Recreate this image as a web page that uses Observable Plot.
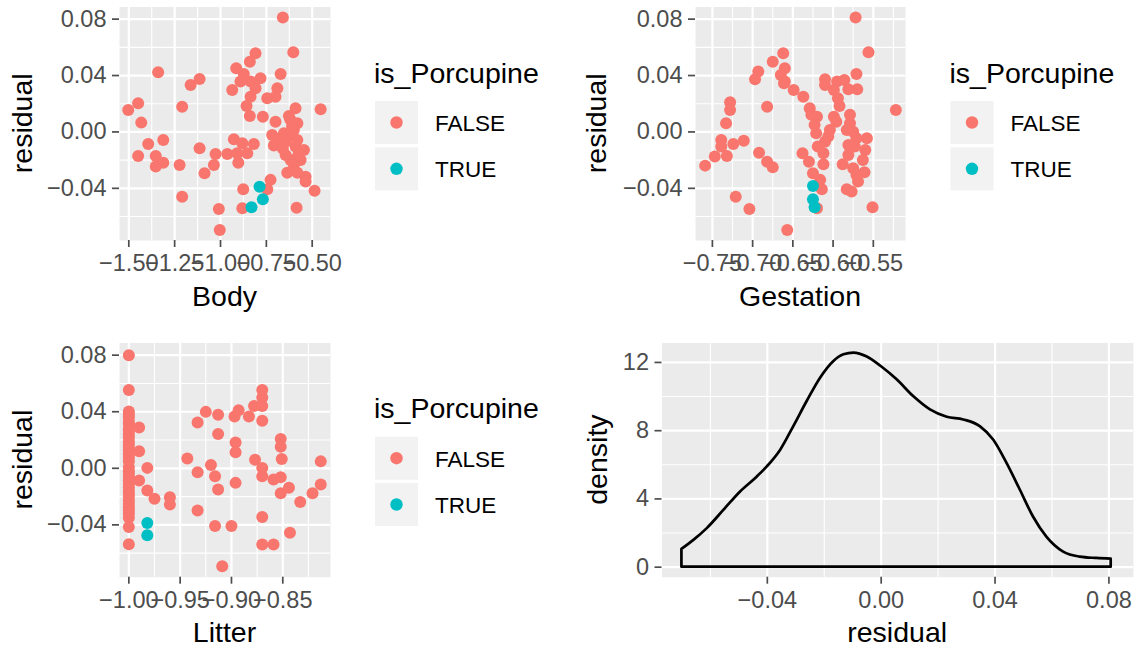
<!DOCTYPE html>
<html><head><meta charset="utf-8">
<script src="https://cdn.jsdelivr.net/npm/d3@7"></script>
<script src="https://cdn.jsdelivr.net/npm/@observablehq/plot@0.6"></script>
<style>
body{margin:0;background:#fff;}
#root{position:relative;width:1134px;height:649px;overflow:hidden;font-family:"Liberation Sans",Arial,sans-serif;background:#fff;}
.panel{position:absolute;}
#overlay{position:absolute;left:0;top:0;}
</style></head><body><div id="root"></div>
<script>
// ---------- data ----------
const porcCategories = ["FALSE", "TRUE"];
const porcColors = ["#F8766D", "#00BFC4"];

const bodyX = [-0.660,-0.603,-0.809,-0.840,-0.914,-0.672,-0.873,-0.782,-0.836,-0.891,-0.936,-0.809,-0.690,-0.700,-0.745,-0.836,-0.858,-0.454,-0.591,-0.840,-0.769,-0.700,-0.627,-0.581,-0.600,-0.654,-0.718,-0.927,-0.881,-0.818,-0.709,-0.645,-0.581,-0.591,-0.545,-0.645,-0.618,-0.563,-0.854,-0.909,-0.963,-1.027,-1.036,-0.903,-0.600,-0.636,-0.581,-0.536,-0.536,-0.727,-0.745,-0.876,-0.487,-0.585,-0.881,-1.009,-1.004,-1.503,-1.449,-1.432,-1.394,-1.449,-1.353,-1.312,-1.312,-1.353,-1.223,-1.209,-1.209,-1.114,-1.087,-1.340,-1.114,-1.163,-0.610,-0.630,-0.660,-0.575,-0.620,-0.690];
const bodyResid = [0.0811,0.0565,0.0558,0.0498,0.0452,0.0411,0.0411,0.0381,0.0357,0.0357,0.0298,0.0310,0.0310,0.0250,0.0239,0.0250,0.0184,0.0161,0.0168,0.0113,0.0108,0.0073,0.0113,0.0062,0.0014,-0.0009,-0.0021,-0.0052,-0.0080,-0.0085,-0.0097,-0.0069,-0.0057,-0.0104,-0.0128,-0.0163,-0.0199,-0.0199,-0.0151,-0.0151,-0.0156,-0.0156,-0.0234,-0.0218,-0.0234,-0.0289,-0.0289,-0.0317,-0.0352,-0.0340,-0.0406,-0.0406,-0.0418,-0.0537,-0.0541,-0.0546,-0.0695,0.0156,0.0203,0.0066,-0.0085,-0.0170,-0.0170,-0.0057,-0.0218,-0.0246,-0.0234,0.0179,-0.0459,-0.0116,-0.0293,0.0423,0.0376,0.0333,0.0040,-0.0030,-0.0120,-0.0160,0.0090,-0.0050];
const bodyPorcX = [-0.787,-0.769,-0.831];
const bodyPorcResid = [-0.0388,-0.0477,-0.0534];

const gestX = [-0.572,-0.556,-0.662,-0.675,-0.660,-0.693,-0.697,-0.665,-0.660,-0.661,-0.649,-0.637,-0.682,-0.728,-0.728,-0.733,-0.739,-0.739,-0.747,-0.732,-0.724,-0.711,-0.759,-0.721,-0.704,-0.657,-0.692,-0.682,-0.675,-0.522,-0.551,-0.571,-0.570,-0.610,-0.610,-0.595,-0.586,-0.581,-0.599,-0.594,-0.592,-0.629,-0.627,-0.620,-0.599,-0.596,-0.579,-0.579,-0.623,-0.583,-0.575,-0.604,-0.621,-0.606,-0.558,-0.571,-0.581,-0.610,-0.619,-0.612,-0.560,-0.573,-0.581,-0.638,-0.630,-0.612,-0.588,-0.563,-0.575,-0.561,-0.571,-0.569,-0.625,-0.616,-0.614,-0.583,-0.577,-0.620];
const gestResid = [0.0811,0.0565,0.0558,0.0498,0.0452,0.0428,0.0374,0.0404,0.0357,0.0345,0.0298,0.0250,0.0179,0.0211,0.0156,0.0062,-0.0057,-0.0104,-0.0175,-0.0170,-0.0085,-0.0062,-0.0239,-0.0459,-0.0546,-0.0695,-0.0147,-0.0211,-0.0250,0.0156,-0.0534,0.0411,0.0303,0.0374,0.0333,0.0357,0.0369,0.0303,0.0298,0.0239,0.0184,0.0168,0.0121,0.0108,0.0108,0.0073,0.0121,0.0062,0.0050,0.0014,0.0002,0.0014,-0.0009,-0.0033,-0.0045,-0.0045,-0.0092,-0.0069,-0.0104,-0.0151,-0.0128,-0.0104,-0.0163,-0.0151,-0.0211,-0.0229,-0.0229,-0.0199,-0.0257,-0.0286,-0.0305,-0.0352,-0.0293,-0.0340,-0.0406,-0.0406,-0.0423,-0.0541];
const gestPorcX = [-0.625,-0.625,-0.623];
const gestPorcResid = [-0.0383,-0.0477,-0.0534];

const litterX = [-1,-1,-1,-1,-1,-1,-1,-1,-1,-1,-1,-1,-1,-1,-1,-1,-1,-1,-1,-1,-1,-1,-1,-1,-1,-1,-1,-1,-1,-1,-1,-1,-1,-1,-1,-1,
  -0.990,-0.990,-0.982,-0.990,-0.982,-0.975,-0.960,-0.960,-0.943,-0.933,-0.933,-0.933,-0.925,-0.920,-0.916,-0.913,-0.913,-0.913,-0.916,-0.909,-0.900,-0.897,-0.893,-0.896,-0.896,-0.896,-0.883,-0.878,-0.877,-0.870,-0.870,-0.870,-0.870,-0.870,-0.870,-0.870,-0.870,-0.859,-0.859,-0.852,-0.852,-0.851,-0.852,-0.852,-0.844,-0.843,-0.833,-0.821,-0.813,-0.813];
const litterResid = [0.0800,0.0554,0.0401,0.0380,0.0359,0.0330,0.0313,0.0280,0.0265,0.0240,0.0218,0.0190,0.0172,0.0150,0.0125,0.0100,0.0077,0.0050,0.0007,-0.0020,-0.0039,-0.0060,-0.0087,-0.0110,-0.0134,-0.0160,-0.0180,-0.0200,-0.0227,-0.0250,-0.0275,-0.0300,-0.0321,-0.0350,-0.0415,-0.0537,
  0.0289,0.0120,0.0003,-0.0087,-0.0157,-0.0215,-0.0204,-0.0256,0.0070,0.0324,-0.0028,-0.0298,0.0399,0.0024,-0.0056,0.0378,0.0242,-0.0150,-0.0408,-0.0692,-0.0408,0.0366,0.0411,0.0183,0.0113,-0.0103,0.0366,0.0441,0.0061,0.0554,0.0500,0.0441,0.0336,0.0003,-0.0056,-0.0345,-0.0539,-0.0080,-0.0539,0.0207,0.0153,0.0066,-0.0063,-0.0176,-0.0138,-0.0455,-0.0239,-0.0176,0.0049,-0.0115];
const litterPorcX = [-0.982,-0.982];
const litterPorcResid = [-0.0387,-0.0474];

const densResid = [-0.0700,-0.0658,-0.0611,-0.0552,-0.0494,-0.0435,-0.0400,-0.0353,-0.0307,-0.0260,-0.0213,-0.0166,-0.0131,-0.0096,-0.0049,0.0000,0.0056,0.0114,0.0173,0.0232,0.0290,0.0348,0.0395,0.0442,0.0489,0.0535,0.0582,0.0641,0.0699,0.0758,0.0808];
const densValue = [1.04,1.57,2.26,3.34,4.41,5.29,5.88,6.86,8.24,9.71,11.08,12.06,12.45,12.55,12.32,11.76,10.98,10.00,9.22,8.79,8.63,8.24,7.45,6.08,4.51,2.94,1.76,0.88,0.59,0.51,0.47];

const residTicks = [-0.04, 0, 0.04, 0.08];
const residMinor = [-0.06, -0.02, 0.02, 0.06];
const bodyTicks = [-1.5, -1.25, -1.0, -0.75, -0.5];
const bodyMinor = [-1.375, -1.125, -0.875, -0.625];
const gestTicks = [-0.75, -0.70, -0.65, -0.60, -0.55];
const gestMinor = [-0.725, -0.675, -0.625, -0.575, -0.525];
const litterTicks = [-1.0, -0.95, -0.90, -0.85];
const litterMinor = [-0.975, -0.925, -0.875, -0.825];
const densTicks = [0, 4, 8, 12];
const densMinor = [2, 6, 10];

// ---------- helpers ----------
const FONT = '"Liberation Sans", Arial, sans-serif';
const TICK_FS = 23.5, TITLE_FS = 28.5, LEG_FS = 22.5;
const fmt2 = d => (d < 0 ? "\u2212" : "") + Math.abs(d).toFixed(2);
const residDomain = [-0.0770, 0.0886];
const root = document.getElementById("root");

function place(svg, left, top) {
  const div = document.createElement("div");
  div.className = "panel";
  div.style.left = left + "px";
  div.style.top = top + "px";
  div.appendChild(svg);
  root.appendChild(div);
}

function gridMarks(xMaj, xMin, yMaj, yMin) {
  return [
    Plot.frame({fill: "#EBEBEB", stroke: "none"}),
    Plot.ruleX(xMin, {stroke: "white", strokeWidth: 1.1}),
    Plot.ruleY(yMin, {stroke: "white", strokeWidth: 1.1}),
    Plot.ruleX(xMaj, {stroke: "white", strokeWidth: 2.2}),
    Plot.ruleY(yMaj, {stroke: "white", strokeWidth: 2.2})
  ];
}

function axes(xMaj, yMaj, xFmt, yFmt) {
  return [
    Plot.axisX(xMaj, {tickFormat: xFmt, tickSize: 7, tickPadding: 7, fontSize: TICK_FS, color: "#4D4D4D", strokeWidth: 1.7, label: null}),
    Plot.axisY(yMaj, {tickFormat: yFmt, tickSize: 7, tickPadding: 6, fontSize: TICK_FS, color: "#4D4D4D", strokeWidth: 1.7, label: null})
  ];
}

function scatter(cfg) {
  const rows = cfg.xs.map((x, i) => ({x, y: cfg.ys[i], g: porcCategories[0]}))
    .concat(cfg.pxs.map((x, i) => ({x, y: cfg.pys[i], g: porcCategories[1]})));
  return Plot.plot({
    width: cfg.width, height: cfg.height,
    marginLeft: cfg.ml, marginRight: cfg.mr, marginTop: cfg.mt, marginBottom: cfg.mb,
    x: {domain: cfg.xDomain},
    y: {domain: residDomain},
    color: {domain: porcCategories, range: porcColors},
    style: {fontFamily: FONT, background: "transparent", overflow: "visible", color: "#4D4D4D"},
    marks: [
      ...gridMarks(cfg.xTicks, cfg.xMinor, residTicks, residMinor),
      Plot.dot(rows, {x: "x", y: "y", fill: "g", r: 6, stroke: "none"}),
      ...axes(cfg.xTicks, residTicks, fmt2, fmt2)
    ]
  });
}

// ---------- panels ----------
const P = {
  body:   {left: 0,   top: 0,   width: 340, height: 320, ml: 119, mr: 10,  mt: 6.5,  mb: 80},
  gest:   {left: 570, top: 0,   width: 340, height: 320, ml: 125, mr: 5,   mt: 6.5,  mb: 80},
  litter: {left: 0,   top: 330, width: 340, height: 319, ml: 119, mr: 10,  mt: 12.5, mb: 72.3},
  dens:   {left: 570, top: 330, width: 564, height: 319, ml: 91.5, mr: 1.1, mt: 12.5, mb: 72.3}
};

place(scatter({...P.body, xs: bodyX, ys: bodyResid, pxs: bodyPorcX, pys: bodyPorcResid,
  xDomain: [-1.5507, -0.4002], xTicks: bodyTicks, xMinor: bodyMinor}), P.body.left, P.body.top);
place(scatter({...P.gest, xs: gestX, ys: gestResid, pxs: gestPorcX, pys: gestPorcResid,
  xDomain: [-0.771, -0.510], xTicks: gestTicks, xMinor: gestMinor}), P.gest.left, P.gest.top);
place(scatter({...P.litter, xs: litterX, ys: litterResid, pxs: litterPorcX, pys: litterPorcResid,
  xDomain: [-1.0091, -0.8035], xTicks: litterTicks, xMinor: litterMinor}), P.litter.left, P.litter.top);

const densRows = densResid.map((r, i) => ({r, d: densValue[i]}));
place(Plot.plot({
  width: P.dens.width, height: P.dens.height,
  marginLeft: P.dens.ml, marginRight: P.dens.mr, marginTop: P.dens.mt, marginBottom: P.dens.mb,
  x: {domain: residDomain},
  y: {domain: [-0.588, 13.14]},
  style: {fontFamily: FONT, background: "transparent", overflow: "visible", color: "#4D4D4D"},
  marks: [
    ...gridMarks(residTicks, residMinor, densTicks, densMinor),
    Plot.areaY(densRows, {x: "r", y: "d", fill: "none", stroke: "black", strokeWidth: 2.7, curve: "monotone-x"}),
    ...axes(residTicks, densTicks, fmt2, d => String(d))
  ]
}), P.dens.left, P.dens.top);

// ---------- titles & legends ----------
const overlay = d3.select(root).append("svg").attr("id", "overlay")
  .attr("width", 1134).attr("height", 649)
  .style("font-family", FONT);

function frameBox(p) {
  return {x0: p.left + p.ml, x1: p.left + p.width - p.mr, y0: p.top + p.mt, y1: p.top + p.height - p.mb};
}
const axisTitles = [
  {p: P.body, x: "Body", y: "residual", yx: 32.3},
  {p: P.gest, x: "Gestation", y: "residual", yx: 605.5},
  {p: P.litter, x: "Litter", y: "residual", yx: 32.3},
  {p: P.dens, x: "residual", y: "density", yx: 607}
];
axisTitles.forEach(t => {
  const b = frameBox(t.p);
  overlay.append("text").attr("x", (b.x0 + b.x1) / 2).attr("y", b.y1 + 65.5)
    .attr("text-anchor", "middle").attr("font-size", TITLE_FS).attr("fill", "black").text(t.x);
  const cy = (b.y0 + b.y1) / 2;
  overlay.append("text").attr("transform", `translate(${t.yx},${cy}) rotate(-90)`)
    .attr("text-anchor", "middle").attr("font-size", TITLE_FS).attr("fill", "black").text(t.y);
});

const legends = [{x: 374, title: 83, keys: 101}, {x: 949.5, title: 83, keys: 101}, {x: 374, title: 418.3, keys: 436.7}];
legends.forEach(L => {
  overlay.append("text").attr("x", L.x).attr("y", L.title).attr("font-size", TITLE_FS)
    .attr("fill", "black").text("is_Porcupine");
  porcCategories.forEach((c, i) => {
    const top = L.keys + i * 46.3;
    overlay.append("rect").attr("x", L.x + 1).attr("y", top).attr("width", 43).attr("height", 43).attr("fill", "#F2F2F2");
    overlay.append("circle").attr("cx", L.x + 22.5).attr("cy", top + 21.5).attr("r", 6.2).attr("fill", porcColors[i]);
    overlay.append("text").attr("x", L.x + 61).attr("y", top + 21.5 + 8.3).attr("font-size", LEG_FS)
      .attr("fill", "black").text(c);
  });
});
</script>
</body></html>
